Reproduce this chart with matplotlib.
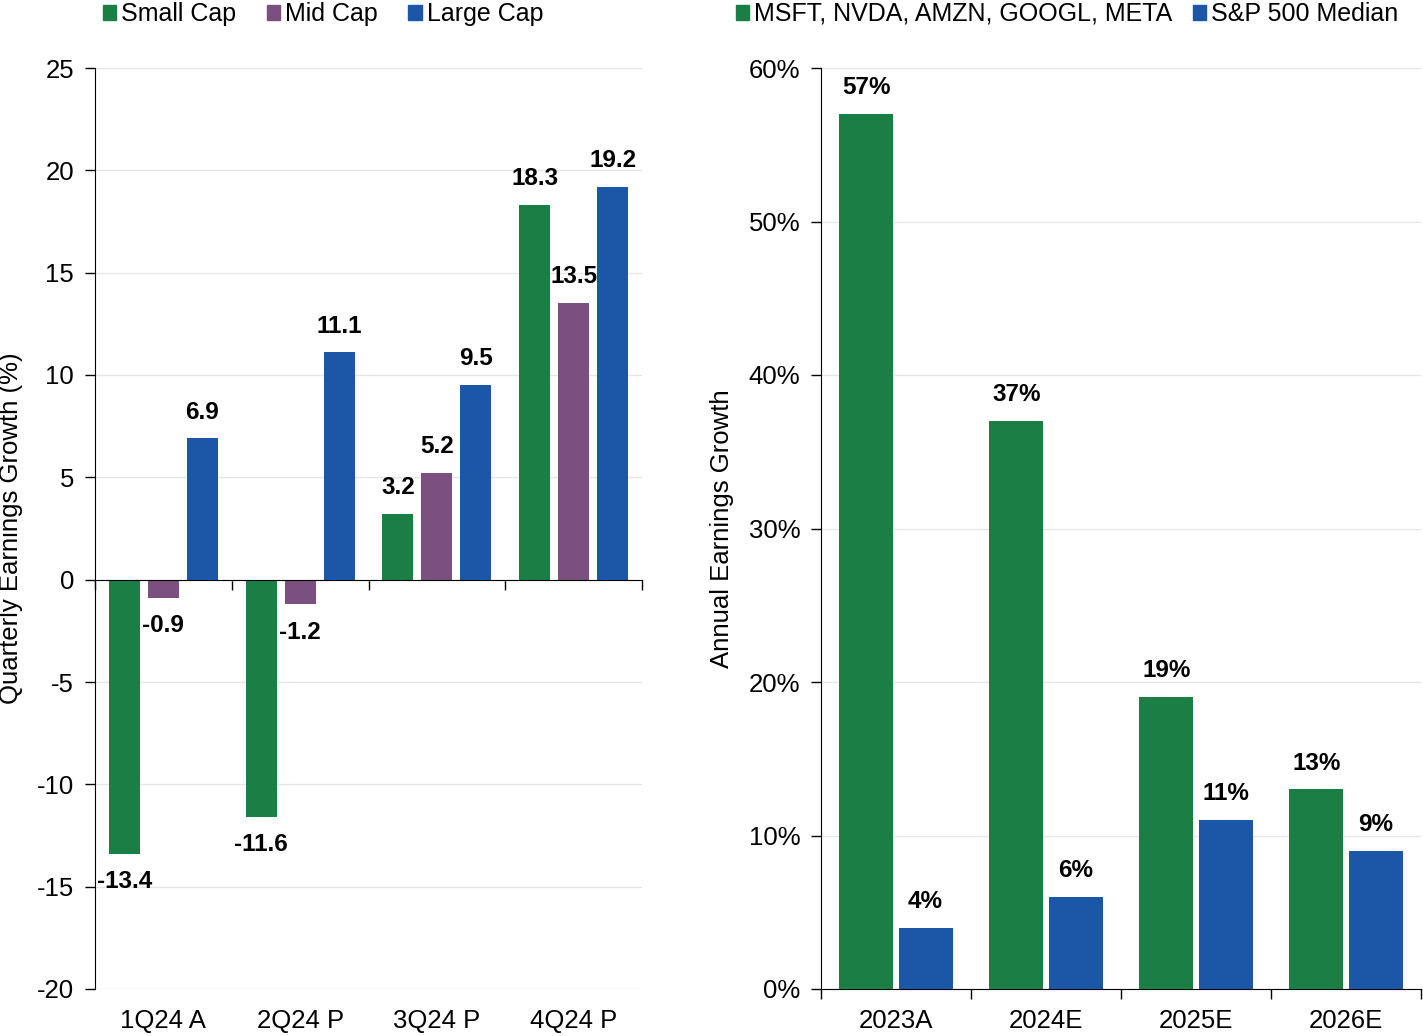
import numpy as np
import matplotlib.pyplot as plt
from matplotlib.patches import Patch
import matplotlib.transforms as mtransforms

plt.rcParams['font.family'] = ['Liberation Sans', 'DejaVu Sans']
plt.rcParams['axes.unicode_minus'] = False

# left panel data
quarters = ["1Q24 A", "2Q24 P", "3Q24 P", "4Q24 P"]
small_cap = [-13.4, -11.6, 3.2, 18.3]
mid_cap = [-0.9, -1.2, 5.2, 13.5]
large_cap = [6.9, 11.1, 9.5, 19.2]

# right panel data
years = ["2023A", "2024E", "2025E", "2026E"]
mega_caps = [57, 37, 19, 13]
sp500_median = [4, 6, 11, 9]

green = "#1b7f45"
purple = "#7b5080"
blue = "#1b57a6"
grid_c = "#e6e6e6"

fig = plt.figure(figsize=(14.23, 10.36), dpi=100)
ax1 = fig.add_axes([95/1423, 1-989/1036, (642-95)/1423, (989-68)/1036])
ax2 = fig.add_axes([821/1423, 1-989/1036, (1421-821)/1423, (989-68)/1036])

lab_fs = 17.5
tick_fs = 18.5

# ---- left chart ----
x = np.arange(len(quarters))
w = 0.226
step = 0.285
series = [(small_cap, green, "Small Cap"), (mid_cap, purple, "Mid Cap"), (large_cap, blue, "Large Cap")]
for k, (vals, col, name) in enumerate(series):
    pos = x + (k - 1) * step
    ax1.bar(pos, vals, width=w, color=col, zorder=3)
    for p, v in zip(pos, vals):
        if v >= 0:
            ax1.annotate(f"{v:.1f}", (p, v), xytext=(0, 19), textcoords="offset points",
                         ha="center", va="center", fontsize=lab_fs, fontweight="bold")
        else:
            ax1.annotate(f"{v:.1f}", (p, v), xytext=(0, -20), textcoords="offset points",
                         ha="center", va="center", fontsize=lab_fs, fontweight="bold")

ax1.set_xlim(-0.5, 3.5)
ax1.set_ylim(-20, 25)
ax1.set_yticks(np.arange(-20, 26, 5))
ax1.yaxis.grid(True, color=grid_c, linewidth=1, zorder=0)
for s in ["top", "right"]:
    ax1.spines[s].set_visible(False)
ax1.spines["bottom"].set_position(("data", 0))
ax1.spines["bottom"].set_zorder(4)
ax1.set_xticks(np.arange(-0.5, 4, 1))
ax1.set_xticklabels([])
ax1.tick_params(axis="x", length=7, width=1, direction="out")
ax1.tick_params(axis="y", length=7, width=1, labelsize=tick_fs, pad=8)
trans1 = mtransforms.blended_transform_factory(ax1.transData, ax1.transAxes)
for xi, lab in zip(x, quarters):
    ax1.text(xi, -0.035, lab, transform=trans1, ha="center", va="center", fontsize=tick_fs)
ax1.set_ylabel("Quarterly Earnings Growth (%)", fontsize=18.5)
ax1.yaxis.set_label_coords(-0.132, 0.5)

# ---- right chart ----
w2 = 0.36
off = 0.197
ax2.bar(x - off, mega_caps, width=w2, color=green, zorder=3)
ax2.bar(x + off, sp500_median, width=w2, color=blue, zorder=3)
for xi, v in zip(x, mega_caps):
    ax2.annotate(f"{v}%", (xi - off, v), xytext=(0, 19), textcoords="offset points",
                 ha="center", va="center", fontsize=lab_fs, fontweight="bold")
for xi, v in zip(x, sp500_median):
    ax2.annotate(f"{v}%", (xi + off, v), xytext=(0, 19), textcoords="offset points",
                 ha="center", va="center", fontsize=lab_fs, fontweight="bold")

ax2.set_xlim(-0.5, 3.5)
ax2.set_ylim(0, 60)
ax2.set_yticks(np.arange(0, 61, 10))
ax2.set_yticklabels([f"{t}%" for t in range(0, 61, 10)])
ax2.yaxis.grid(True, color=grid_c, linewidth=1, zorder=0)
for s in ["top", "right"]:
    ax2.spines[s].set_visible(False)
ax2.set_xticks(np.arange(-0.5, 4, 1))
ax2.set_xticklabels([])
ax2.tick_params(axis="x", length=7, width=1, direction="out")
ax2.tick_params(axis="y", length=7, width=1, labelsize=tick_fs, pad=8)
trans2 = mtransforms.blended_transform_factory(ax2.transData, ax2.transAxes)
for xi, lab in zip(x, years):
    ax2.text(xi, -0.035, lab, transform=trans2, ha="center", va="center", fontsize=tick_fs)
ax2.set_ylabel("Annual Earnings Growth", fontsize=18.5)
ax2.yaxis.set_label_coords(-0.145, 0.5)

# legends
h1 = [Patch(color=c, label=n) for _, c, n in series]
fig.legend(handles=h1, loc="center", bbox_to_anchor=(323/1423, 1-14/1036), ncol=3,
           frameon=False, fontsize=18, handlelength=0.55, handleheight=0.55,
           handletextpad=0.2, columnspacing=1.2, borderpad=0)
h2 = [Patch(color=green, label="MSFT, NVDA, AMZN, GOOGL, META"),
      Patch(color=blue, label="S&P 500 Median")]
fig.legend(handles=h2, loc="center", bbox_to_anchor=(1067/1423, 1-14/1036), ncol=2,
           frameon=False, fontsize=18, handlelength=0.55, handleheight=0.55,
           handletextpad=0.2, columnspacing=0.8, borderpad=0)

fig.savefig("out.png", dpi=100)
